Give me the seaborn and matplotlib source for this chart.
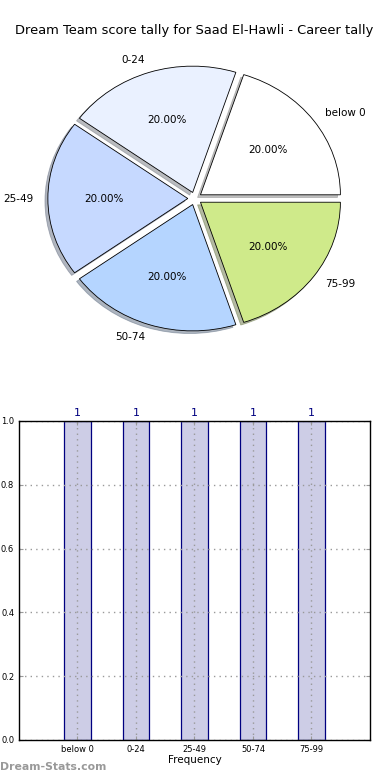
import matplotlib
matplotlib.use("Agg")
import matplotlib.pyplot as plt
import seaborn as sns
import pandas as pd

categories = ["below 0", "0-24", "25-49", "50-74", "75-99"]
counts = [1, 1, 1, 1, 1]
pie_colors = ["#ffffff", "#eaf1ff", "#c6d9ff", "#b5d5ff", "#cfea8a"]
title = "Dream Team score tally for Saad El-Hawli - Career tally"

plt.rcParams['font.family'] = ['DejaVu Sans']
fig = plt.figure(figsize=(3.9, 7.8), dpi=100)

# Pie chart
ax1 = fig.add_axes([0.051, 0.543, 0.897, 0.405])
wedges, texts, autotexts = ax1.pie(
    counts, labels=categories, colors=pie_colors, explode=[0.05] * len(counts),
    autopct="%.2f%%", shadow={"ox": -0.015, "oy": -0.015, "shade": 0.5},
    startangle=0,
    wedgeprops=dict(edgecolor="black", linewidth=0.6),
    textprops=dict(fontsize=7.5))
ax1.set_aspect("auto")
ax1.set_xlim(-1.25, 1.25)
ax1.set_ylim(-1.25, 1.25)
ax1.axis("off")
fig.text(0.497, 0.9615, title, ha="center", va="center", fontsize=9.4)

# Bar chart
df = pd.DataFrame({"category": categories, "count": counts})
ax2 = fig.add_axes([0.0487, 0.0513, 0.9, 0.409])
sns.barplot(data=df, x="category", y="count", ax=ax2, width=0.45,
            color="#cdcde6", edgecolor="#000080", linewidth=0.9, saturation=1)
ax2.set_xlim(-1, 5)
ax2.set_ylim(0, 1.0)
ax2.set_yticks([0.0, 0.2, 0.4, 0.6, 0.8, 1.0])
ax2.set_yticklabels(["%.1f" % v for v in [0.0, 0.2, 0.4, 0.6, 0.8, 1.0]])
ax2.tick_params(axis="both", labelsize=6, direction="in", length=3,
                color="#999999", top=True, right=True)
ax2.grid(True, linestyle=(0, (1, 3)), color="#999999", linewidth=1.0)
ax2.set_axisbelow(False)
ax2.set_xlabel("Frequency", fontsize=7.5, labelpad=1)
ax2.set_ylabel("")
for i, v in enumerate(counts):
    ax2.text(i, v + 0.01, str(v), ha="center", va="bottom", color="#000080", fontsize=8)
for s in ax2.spines.values():
    s.set_linewidth(1.0)
    s.set_zorder(5)

fig.text(0.0, 0.01, "Dream-Stats.com", color="#999999", fontsize=7.8,
         fontweight="semibold", ha="left", va="bottom")

fig.savefig("out.png", dpi=100)
